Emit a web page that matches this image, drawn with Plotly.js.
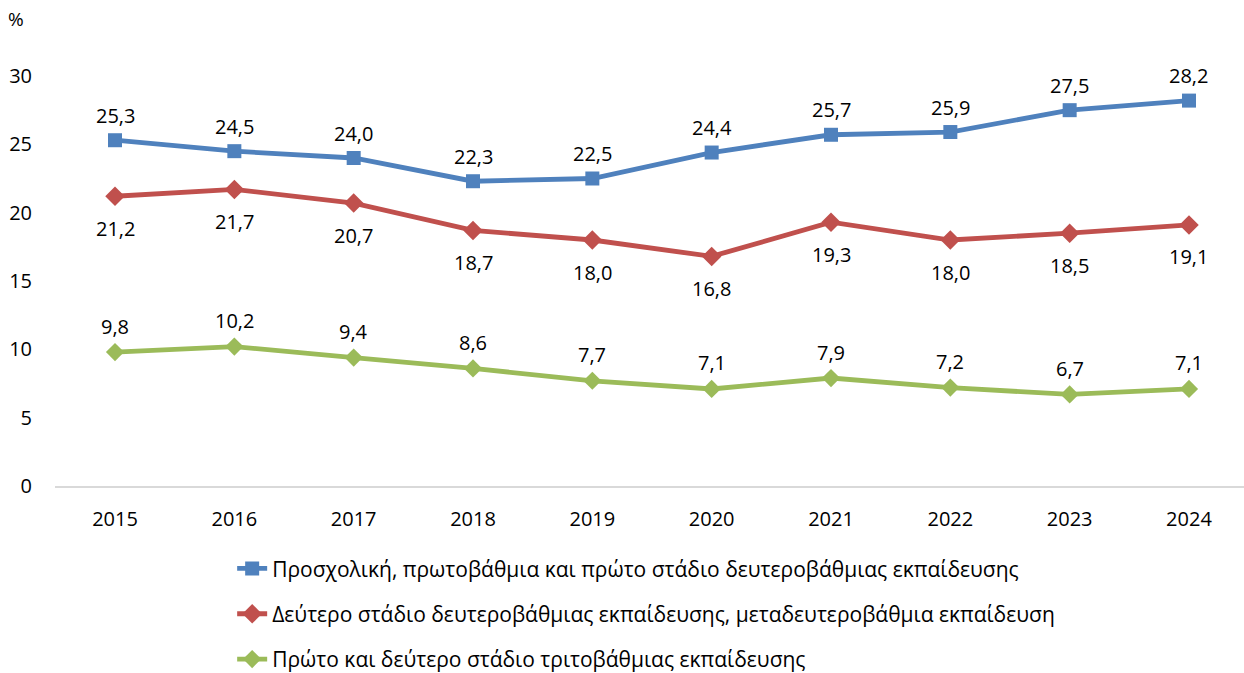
<!DOCTYPE html>
<html>
<head>
<meta charset="utf-8">
<script src="https://cdn.plot.ly/plotly-3.0.1.min.js"></script>
<style>
  html, body { margin: 0; padding: 0; background: #fff; }
  #chart { width: 1244px; height: 673px; }
</style>
</head>
<body>
<div id="chart"></div>
<script>
const years = ['2015', '2016', '2017', '2018', '2019', '2020', '2021', '2022', '2023', '2024'];

const primaryName = 'Προσχολική, πρωτοβάθμια και πρώτο στάδιο δευτεροβάθμιας εκπαίδευσης';
const secondaryName = 'Δεύτερο στάδιο δευτεροβάθμιας εκπαίδευσης, μεταδευτεροβάθμια εκπαίδευση';
const tertiaryName = 'Πρώτο και δεύτερο στάδιο τριτοβάθμιας εκπαίδευσης';

const primary = [25.3, 24.5, 24.0, 22.3, 22.5, 24.4, 25.7, 25.9, 27.5, 28.2];
const secondary = [21.2, 21.7, 20.7, 18.7, 18.0, 16.8, 19.3, 18.0, 18.5, 19.1];
const tertiary = [9.8, 10.2, 9.4, 8.6, 7.7, 7.1, 7.9, 7.2, 6.7, 7.1];

const FONT = '"Open Sans", "Noto Sans", sans-serif';
const fmt = v => v.toFixed(1).replace('.', ',');

function series(y, name, color, symbol, size, group) {
  return {
    x: years, y: y, name: name, type: 'scatter', mode: 'lines+markers',
    legendgroup: group, cliponaxis: false,
    line: {color: color, width: 4.8},
    marker: {color: color, symbol: symbol, size: size}
  };
}

const traces = [
  series(primary, primaryName, '#4F81BD', 'square', 14, 'a'),
  series(secondary, secondaryName, '#C0504D', 'diamond', 15, 'b'),
  series(tertiary, tertiaryName, '#9BBB59', 'diamond', 14, 'c')
];

function labels(y, shift) {
  return y.map((v, i) => ({
    x: i, y: v, xref: 'x', yref: 'y', text: fmt(v), showarrow: false,
    yshift: shift, font: {size: 20, color: '#000', family: FONT}
  }));
}

const annotations = [].concat(
  labels(primary, 25),
  labels(secondary, -32),
  labels(tertiary, 26),
  [{xref: 'paper', yref: 'paper', x: -0.024, y: 1.14, xanchor: 'right', yanchor: 'middle',
    text: '%', showarrow: false, font: {size: 19, color: '#000', family: FONT}}]
);

const layout = {
  width: 1244, height: 673,
  margin: {l: 55, r: 0, t: 76, b: 187, autoexpand: false},
  paper_bgcolor: '#fff', plot_bgcolor: '#fff',
  font: {family: FONT, color: '#000', size: 19},
  showlegend: true,
  legend: {
    x: 0.149, y: -0.152,
    xanchor: 'left', yanchor: 'top',
    traceorder: 'grouped', tracegroupgap: 15,
    font: {size: 21, family: FONT, color: '#000'}
  },
  xaxis: {
    type: 'category', range: [-0.503, 9.461],
    showline: true, linecolor: '#D9D9D9', linewidth: 2,
    showgrid: false, zeroline: false, ticks: '',
    tickangle: 0, automargin: false,
    ticklabelstandoff: 14,
    tickfont: {size: 20, family: FONT, color: '#000'}
  },
  yaxis: {
    range: [0, 30], dtick: 5, tick0: 0,
    showgrid: false, zeroline: false, showline: false, ticks: '',
    automargin: false,
    ticklabelstandoff: 22,
    tickfont: {size: 20, family: FONT, color: '#000'}
  },
  annotations: annotations
};

Plotly.newPlot('chart', traces, layout, {staticPlot: true});
</script>
</body>
</html>
